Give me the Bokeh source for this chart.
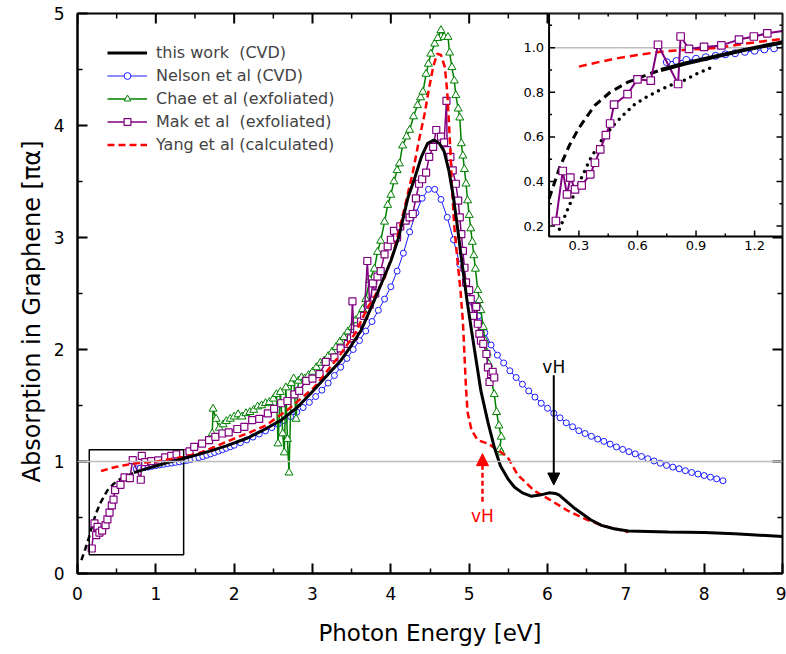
import math
from bokeh.plotting import figure
from bokeh.models import (Range1d, Legend, LegendItem, Arrow, NormalHead,
                          Label, FixedTicker, Span, Title)
from bokeh.core.properties import value
from bokeh.embed import file_html
from bokeh.resources import INLINE

FONT = "DejaVu Sans"
BLACK, BLUE, GREEN, PURPLE, RED, GRAY = "#000000", "#1a1aff", "#008000", "#800080", "#ff0000", "#bdbdbd"

# ---------------- data ----------------
# this work (CVD), measured
work_x = [0.72, 0.85, 1.00, 1.15, 1.32, 1.50, 1.70, 1.90, 2.17, 2.40, 2.60, 2.80, 2.98, 3.20,
          3.36, 3.50, 3.62, 3.79, 4.00, 4.10, 4.22, 4.30, 4.39, 4.47, 4.55, 4.62, 4.68, 4.74,
          4.79, 4.84, 4.90, 4.97, 5.03, 5.09, 5.15, 5.24, 5.32, 5.40, 5.50, 5.58, 5.68, 5.79,
          5.90, 6.02, 6.10, 6.15, 6.25, 6.35, 6.43, 6.55, 6.69, 6.85, 7.03, 7.54, 8.00, 8.39, 9.00]
work_y = [0.900, 0.930, 0.960, 0.990, 1.020, 1.055, 1.095, 1.140, 1.210, 1.290, 1.370, 1.480,
          1.610, 1.780, 1.900, 2.040, 2.170, 2.440, 2.790, 3.000, 3.360, 3.520, 3.720, 3.840,
          3.870, 3.840, 3.770, 3.600, 3.400, 3.150, 2.820, 2.450, 2.170, 1.900, 1.630, 1.350,
          1.130, 0.960, 0.840, 0.770, 0.720, 0.690, 0.700, 0.720, 0.715, 0.700, 0.640, 0.580,
          0.540, 0.480, 0.430, 0.400, 0.380, 0.370, 0.365, 0.355, 0.330]
# this work, low-energy extrapolation (dashed)
work_ext_x = [0.05, 0.10, 0.15, 0.20, 0.25, 0.30, 0.38, 0.46, 0.55, 0.67, 0.72]
work_ext_y = [0.12, 0.22, 0.33, 0.46, 0.56, 0.64, 0.74, 0.80, 0.845, 0.885, 0.900]
# dotted curve shown in the inset only
work_dot_x = [0.20, 0.24, 0.276, 0.32, 0.361, 0.42, 0.477, 0.53, 0.588, 0.65, 0.71, 0.77, 0.835, 0.91, 0.99]
work_dot_y = [0.186, 0.27, 0.345, 0.43, 0.506, 0.59, 0.652, 0.70, 0.748, 0.78, 0.808, 0.832, 0.852, 0.885, 0.916]

# Nelson et al (CVD)
nelson_x = [0.75, 0.80, 0.85, 0.90, 0.95, 1.00, 1.05, 1.10, 1.15, 1.20, 1.25, 1.30, 1.35, 1.40,
            1.45, 1.50, 1.55, 1.60, 1.65, 1.70, 1.75, 1.80, 1.85, 1.90, 1.95,
            2.00, 2.08, 2.16, 2.24, 2.32, 2.40, 2.48, 2.56, 2.64, 2.72, 2.80, 2.88, 2.96, 3.04,
            3.12, 3.20, 3.28, 3.36, 3.44, 3.52, 3.60, 3.68, 3.76, 3.84, 3.92, 4.00, 4.08, 4.16,
            4.24, 4.32, 4.40, 4.48, 4.56, 4.64, 4.72, 4.80, 4.88, 4.96, 5.04, 5.12, 5.20, 5.28,
            5.36, 5.44, 5.52, 5.60, 5.68, 5.76, 5.84, 5.92, 6.00, 6.08, 6.16, 6.24, 6.32, 6.40,
            6.48, 6.56, 6.64, 6.72, 6.80, 6.88, 6.96, 7.04, 7.12, 7.20, 7.28, 7.36, 7.44, 7.52,
            7.60, 7.68, 7.76, 7.84, 7.92, 8.00, 8.08, 8.16, 8.24]
nelson_y = [0.935, 0.940, 0.945, 0.950, 0.957, 0.963, 0.970, 0.975, 0.981, 0.986, 0.992, 0.997,
            1.003, 1.010, 1.018, 1.026, 1.035, 1.045, 1.056, 1.068, 1.080, 1.092, 1.105, 1.118,
            1.131, 1.145, 1.168, 1.192, 1.218, 1.245, 1.273, 1.302, 1.333, 1.365, 1.400, 1.440,
            1.482, 1.528, 1.580, 1.637, 1.700, 1.768, 1.842, 1.920, 2.000, 2.080, 2.165, 2.250,
            2.350, 2.450, 2.560, 2.700, 2.860, 3.050, 3.220, 3.350, 3.430, 3.430, 3.340, 3.180,
            2.980, 2.760, 2.580, 2.420, 2.300, 2.150, 2.040, 1.950, 1.880, 1.810, 1.750, 1.690,
            1.630, 1.575, 1.520, 1.475, 1.430, 1.390, 1.345, 1.310, 1.275, 1.250, 1.225, 1.200,
            1.180, 1.155, 1.130, 1.108, 1.088, 1.068, 1.045, 1.025, 1.005, 0.985, 0.965, 0.950,
            0.935, 0.918, 0.902, 0.888, 0.875, 0.860, 0.845, 0.828]

# Chae et al (exfoliated)
chae_x = [1.72, 1.73, 1.77, 1.81, 1.86, 1.90, 1.95, 2.00, 2.05, 2.10, 2.15, 2.20, 2.25, 2.30,
          2.35, 2.40, 2.45, 2.50, 2.54, 2.56, 2.59, 2.62, 2.64, 2.66, 2.68, 2.70, 2.73, 2.76,
          2.79, 2.82, 2.86, 2.90, 2.95, 3.00, 3.05, 3.10, 3.15, 3.20, 3.25, 3.30, 3.35, 3.40,
          3.45, 3.50, 3.55, 3.60, 3.64, 3.68, 3.73, 3.79, 3.83, 3.87, 3.92, 3.96, 4.00, 4.04,
          4.08, 4.11, 4.15, 4.20, 4.24, 4.29, 4.34, 4.38, 4.41, 4.45, 4.48, 4.51, 4.56, 4.60,
          4.64, 4.68, 4.73, 4.75, 4.78, 4.81, 4.83, 4.86, 4.88, 4.90, 4.92, 4.94, 4.96, 4.98,
          5.00, 5.02, 5.04, 5.06, 5.08, 5.11, 5.13, 5.15, 5.18, 5.20, 5.23, 5.25, 5.28, 5.32,
          5.35, 5.38, 5.41, 5.39, 5.41]
chae_y = [1.25, 1.47, 1.38, 1.30, 1.33, 1.36, 1.38, 1.40, 1.42, 1.40, 1.43, 1.44, 1.46, 1.49,
          1.50, 1.52, 1.53, 1.56, 1.60, 1.16, 1.62, 1.25, 1.08, 1.66, 1.20, 0.90, 1.70, 1.74,
          1.38, 1.72, 1.75, 1.74, 1.77, 1.80, 1.84, 1.88, 1.90, 1.94, 1.98, 2.02, 2.07, 2.11,
          2.16, 2.20, 2.26, 2.30, 2.36, 2.45, 2.62, 2.72, 2.87, 2.97, 3.14, 3.29, 3.38, 3.50,
          3.60, 3.66, 3.82, 3.90, 3.96, 4.08, 4.18, 4.25, 4.30, 4.46, 4.55, 4.64, 4.73, 4.78,
          4.85, 4.79, 4.79, 4.65, 4.52, 4.40, 4.27, 4.15, 4.07, 3.84, 3.73, 3.61, 3.48, 3.33,
          3.20, 3.08, 2.96, 2.84, 2.72, 2.53, 2.44, 2.35, 2.20, 2.08, 1.97, 1.87, 1.74, 1.60,
          1.44, 1.32, 1.22, 1.11, 1.08]

# Mak et al (exfoliated)
mak_x = [0.182, 0.217, 0.239, 0.256, 0.280, 0.314, 0.358, 0.382, 0.409, 0.438, 0.460, 0.480,
         0.549, 0.600, 0.668, 0.705, 0.808, 0.821, 0.864, 0.941, 1.03, 1.12, 1.196, 1.265, 1.35,
         1.43, 1.49, 1.59, 1.68, 1.76, 1.85, 1.93, 2.04, 2.13, 2.23, 2.32, 2.43, 2.51, 2.60,
         2.68, 2.77, 2.83, 2.92, 3.00, 3.09, 3.17, 3.28, 3.36, 3.45, 3.49, 3.51, 3.53, 3.57,
         3.62, 3.66, 3.70, 3.73, 3.77, 3.80, 3.83, 3.87, 3.92, 3.96, 4.00, 4.04, 4.08, 4.12,
         4.19, 4.24, 4.28, 4.32, 4.36, 4.40, 4.45, 4.49, 4.54, 4.58, 4.64, 4.68, 4.71, 4.72,
         4.76, 4.79, 4.83, 4.86, 4.88, 4.90, 4.92, 4.94, 4.96, 5.00, 5.02, 5.05, 5.09, 5.11,
         5.13, 5.15, 5.18, 5.22, 5.24, 5.28, 5.26, 5.30, 5.32]
mak_y = [0.223, 0.447, 0.342, 0.417, 0.365, 0.383, 0.432, 0.484, 0.544, 0.608, 0.660, 0.745,
         0.792, 0.858, 0.852, 1.013, 0.837, 1.050, 0.994, 1.003, 1.010, 1.036, 1.050, 1.064,
         1.076, 1.09, 1.13, 1.16, 1.19, 1.22, 1.25, 1.26, 1.29, 1.31, 1.37, 1.38, 1.43, 1.47,
         1.52, 1.54, 1.60, 1.63, 1.72, 1.74, 1.78, 1.89, 1.93, 2.01, 2.05, 2.10, 2.43, 2.12,
         2.18, 2.25, 2.30, 2.79, 2.40, 2.59, 2.50, 2.65, 2.70, 2.85, 2.92, 2.98, 3.06, 3.00,
         3.10, 3.15, 3.18, 3.21, 3.35, 3.48, 3.52, 3.58, 3.72, 3.81, 3.96, 3.90, 3.85, 4.22,
         3.78, 3.72, 3.60, 3.48, 3.33, 3.18, 3.03, 2.88, 2.73, 2.60, 2.53, 2.45, 2.30, 2.38,
         2.23, 2.14, 2.08, 2.05, 1.96, 1.84, 1.78, 1.71, 1.80, 1.75]

# Yang et al (calculated)
yang_x = [0.30, 0.40, 0.50, 0.60, 0.72, 0.85, 1.00, 1.15, 1.35, 1.55, 1.75, 2.00, 2.20, 2.40,
          2.68, 3.02, 3.36, 3.55, 3.70, 3.79, 3.92, 4.04, 4.17, 4.28, 4.36, 4.43, 4.49, 4.54,
          4.59, 4.64, 4.69, 4.72, 4.74, 4.76, 4.78, 4.81, 4.85, 4.89, 4.92, 4.94, 4.96, 4.98,
          5.03, 5.11, 5.24, 5.35, 5.49, 5.62, 5.83, 6.05, 6.26, 6.47, 6.69, 6.86, 7.03]
yang_y = [0.915, 0.935, 0.953, 0.967, 0.982, 0.990, 0.998, 1.018, 1.040, 1.075, 1.130, 1.205,
          1.260, 1.320, 1.460, 1.660, 1.960, 2.150, 2.370, 2.470, 2.640, 2.880, 3.250, 3.580,
          3.870, 4.100, 4.340, 4.520, 4.640, 4.630, 4.520, 4.300, 4.050, 3.780, 3.450, 3.100,
          2.800, 2.520, 2.250, 1.950, 1.650, 1.440, 1.280, 1.190, 1.160, 1.110, 1.040, 0.880,
          0.740, 0.650, 0.560, 0.490, 0.430, 0.400, 0.370]

legend_labels = ["this work  (CVD)", "Nelson et al (CVD)", "Chae et al (exfoliated)",
                 "Mak et al  (exfoliated)", "Yang et al (calculated)"]

# axes / ticks
main_x = (0, 9)
main_y = (0, 5)
x_major = [0, 1, 2, 3, 4, 5, 6, 7, 8, 9]
x_minor = [0.5, 1.5, 2.5, 3.5, 4.5, 5.5, 6.5, 7.5, 8.5]
y_major = [0, 1, 2, 3, 4, 5]
y_minor = [0.5, 1.5, 2.5, 3.5, 4.5]

inset_x = (0.147, 1.343)
inset_y = (0.154, 1.153)
inset_place_x = (6.02, 9.0)     # inset location in main-axis units
inset_place_y = (3.01, 5.0)
inset_xticks = [0.3, 0.6, 0.9, 1.2]
inset_xlabels = ["0.3", "0.6", "0.9", "1.2"]
inset_xminor = [0.45, 0.75, 1.05]
inset_yticks = [0.2, 0.4, 0.6, 0.8, 1.0]
inset_ylabels = ["0.2", "0.4", "0.6", "0.8", "1.0"]
inset_yminor = [0.3, 0.5, 0.7, 0.9, 1.1]

zoom_box = (0.15, 1.355, 0.167, 1.104)   # left, right, bottom, top
vh_black = (6.08, 1.77, 0.79, 1.84)      # x, y_start, y_end, label y
vh_red = (5.17, 0.64, 1.07, 0.60)

# ---------------- figure ----------------
p = figure(width=786, height=654, x_range=Range1d(*main_x), y_range=Range1d(*main_y),
           output_backend="svg", toolbar_location=None,
           min_border_left=77, min_border_right=4, min_border_top=13, min_border_bottom=81,
           x_axis_label="Photon Energy [eV]")
p.grid.visible = False
p.outline_line_color = "black"
p.outline_line_width = 2

p.xaxis.ticker = FixedTicker(ticks=x_major, minor_ticks=x_minor)
p.yaxis.ticker = FixedTicker(ticks=y_major, minor_ticks=y_minor)
for ax in p.xaxis + p.yaxis:
    ax.axis_line_width = 2
    ax.major_tick_in = 10
    ax.major_tick_out = 0
    ax.minor_tick_in = 5
    ax.minor_tick_out = 0
    ax.major_tick_line_width = 2
    ax.minor_tick_line_width = 1.5
    ax.major_label_text_font = FONT
    ax.major_label_text_font_size = "17px"
    ax.major_label_text_color = BLACK
    ax.major_label_standoff = 13
p.xaxis.axis_label_text_font = FONT
p.xaxis.axis_label_text_font_size = "23px"
p.xaxis.axis_label_text_font_style = "normal"
p.xaxis.axis_label_text_color = BLACK
p.xaxis.axis_label_standoff = 17

# y axis title; trailing em/en spaces push the visible text a little below the frame centre
p.add_layout(Title(text="Absorption in Graphene [πα]\u2003\u2002", align="center",
                   text_font=FONT, text_font_size="24px", text_font_style="normal",
                   text_color=BLACK, standoff=9), "left")

p.add_layout(Span(location=1, dimension="width", line_color=GRAY, line_width=1.5))

# mirrored inward ticks on the top and right frame edges
for vals, L in ((x_major, 10), (x_minor, 5)):
    p.ray(x=vals, y=[main_y[1]] * len(vals), length=L, angle=-math.pi / 2,
          length_units="screen", line_color=BLACK, line_width=2 if L == 10 else 1.5)
for vals, L in ((y_major, 10), (y_minor, 5)):
    p.ray(x=[main_x[1]] * len(vals), y=vals, length=L, angle=math.pi,
          length_units="screen", line_color=BLACK, line_width=2 if L == 10 else 1.5)

# main series
p.line(work_ext_x, work_ext_y, line_color=BLACK, line_width=2.5, line_dash="6 4")
r_bl = p.line(nelson_x, nelson_y, line_color=BLUE, line_width=1)
r_bm = p.scatter(nelson_x, nelson_y, marker="circle", size=6, line_color=BLUE,
                 fill_color="white", line_width=1)
r_gl = p.line(chae_x, chae_y, line_color=GREEN, line_width=1.5)
r_gm = p.scatter(chae_x, chae_y, marker="triangle", size=8, line_color=GREEN,
                 fill_color="white", line_width=1)
r_pl = p.line(mak_x, mak_y, line_color=PURPLE, line_width=1.5)
r_pm = p.scatter(mak_x, mak_y, marker="square", size=7, line_color=PURPLE,
                 fill_color="white", line_width=1.2)
r_red = p.line(yang_x, yang_y, line_color=RED, line_width=2.5, line_dash="7 4")
r_work = p.line(work_x, work_y, line_color=BLACK, line_width=3)

p.quad(left=zoom_box[0], right=zoom_box[1], bottom=zoom_box[2], top=zoom_box[3],
       fill_alpha=0, line_color=BLACK, line_width=1.5)

# vH arrows & labels
p.add_layout(Arrow(end=NormalHead(size=12, fill_color=BLACK, line_color=BLACK),
                   x_start=vh_black[0], y_start=vh_black[1], x_end=vh_black[0], y_end=vh_black[2],
                   line_color=BLACK, line_width=2))
p.add_layout(Label(x=vh_black[0], y=vh_black[3], text="vH", text_align="center",
                   text_baseline="alphabetic", text_font=FONT, text_font_size="17px",
                   text_color=BLACK))
p.add_layout(Arrow(end=NormalHead(size=12, fill_color=RED, line_color=RED),
                   x_start=vh_red[0], y_start=vh_red[1], x_end=vh_red[0], y_end=vh_red[2],
                   line_color=RED, line_width=2.5, line_dash="5 3"))
p.add_layout(Label(x=vh_red[0], y=vh_red[3], text="vH", text_align="center",
                   text_baseline="top", text_font=FONT, text_font_size="17px",
                   text_color=RED))

# ---------------- inset ----------------
def extra_range(src, tgt, full):
    s0, s1 = src
    t0, t1 = tgt
    f0, f1 = full
    k = (s1 - s0) / (t1 - t0)
    return Range1d(s0 - (t0 - f0) * k, s1 + (f1 - t1) * k)


p.extra_x_ranges = {"inset": extra_range(inset_x, inset_place_x, main_x)}
p.extra_y_ranges = {"inset": extra_range(inset_y, inset_place_y, main_y)}
IN = dict(x_range_name="inset", y_range_name="inset")
X0, X1 = inset_x
Y0, Y1 = inset_y


def clip_polyline(xs, ys):
    out_x, out_y, cx, cy = [], [], [], []
    for i in range(len(xs) - 1):
        ax_, ay_, bx_, by_ = xs[i], ys[i], xs[i + 1], ys[i + 1]
        dx, dy = bx_ - ax_, by_ - ay_
        t0, t1, ok = 0.0, 1.0, True
        for pp, qq in ((-dx, ax_ - X0), (dx, X1 - ax_), (-dy, ay_ - Y0), (dy, Y1 - ay_)):
            if pp == 0:
                if qq < 0:
                    ok = False
                    break
            else:
                r = qq / pp
                if pp < 0:
                    if r > t1:
                        ok = False
                        break
                    t0 = max(t0, r)
                else:
                    if r < t0:
                        ok = False
                        break
                    t1 = min(t1, r)
        if not ok:
            if cx:
                out_x.append(cx)
                out_y.append(cy)
                cx, cy = [], []
            continue
        sx, sy = ax_ + t0 * dx, ay_ + t0 * dy
        ex, ey = ax_ + t1 * dx, ay_ + t1 * dy
        if cx and (abs(cx[-1] - sx) > 1e-9 or abs(cy[-1] - sy) > 1e-9):
            out_x.append(cx)
            out_y.append(cy)
            cx, cy = [], []
        if not cx:
            cx, cy = [sx], [sy]
        cx.append(ex)
        cy.append(ey)
        if t1 < 1.0:
            out_x.append(cx)
            out_y.append(cy)
            cx, cy = [], []
    if cx:
        out_x.append(cx)
        out_y.append(cy)
    return out_x, out_y


def inside(xs, ys):
    pts = [(a, b) for a, b in zip(xs, ys) if X0 <= a <= X1 and Y0 <= b <= Y1]
    return [a for a, _ in pts], [b for _, b in pts]


p.quad(left=X0, right=X1, bottom=Y0, top=Y1, fill_color="white", line_color=None, **IN)
p.segment(x0=X0, y0=1.0, x1=X1, y1=1.0, line_color=GRAY, line_width=1.5, **IN)

mx, my = clip_polyline(work_dot_x, work_dot_y)
p.multi_line(mx, my, line_color=BLACK, line_width=3.5, line_dash="0 7", line_cap="round", **IN)
mx, my = clip_polyline(work_ext_x, work_ext_y)
p.multi_line(mx, my, line_color=BLACK, line_width=3, line_dash="8 5", **IN)
mx, my = clip_polyline(nelson_x, nelson_y)
p.multi_line(mx, my, line_color=BLUE, line_width=1, **IN)
sx, sy = inside(nelson_x, nelson_y)
p.scatter(sx, sy, marker="circle", size=7, line_color=BLUE, fill_color="white", line_width=1, **IN)
mx, my = clip_polyline(yang_x, yang_y)
p.multi_line(mx, my, line_color=RED, line_width=2.5, line_dash="8 5", **IN)
mx, my = clip_polyline(mak_x, mak_y)
p.multi_line(mx, my, line_color=PURPLE, line_width=2, **IN)
sx, sy = inside(mak_x, mak_y)
p.scatter(sx, sy, marker="square", size=7.5, line_color=PURPLE, fill_color="white", line_width=1.2, **IN)
mx, my = clip_polyline(work_x, work_y)
p.multi_line(mx, my, line_color=BLACK, line_width=4, **IN)

# inset frame
p.quad(left=X0, right=X1, bottom=Y0, top=Y1, fill_alpha=0, line_color=BLACK, line_width=2, **IN)
# inset ticks (inward)
for vals, L in ((inset_xticks, 6), (inset_xminor, 3)):
    n = len(vals)
    p.ray(x=vals, y=[Y0] * n, length=L, angle=math.pi / 2, length_units="screen",
          line_color=BLACK, line_width=1.5, **IN)
    p.ray(x=vals, y=[Y1] * n, length=L, angle=-math.pi / 2, length_units="screen",
          line_color=BLACK, line_width=1.5, **IN)
for vals, L in ((inset_yticks, 6), (inset_yminor, 3)):
    n = len(vals)
    p.ray(x=[X0] * n, y=vals, length=L, angle=0, length_units="screen",
          line_color=BLACK, line_width=1.5, **IN)
    p.ray(x=[X1] * n, y=vals, length=L, angle=math.pi, length_units="screen",
          line_color=BLACK, line_width=1.5, **IN)
p.text(x=inset_xticks, y=[Y0] * len(inset_xticks), text=inset_xlabels, text_align="center",
       text_baseline="top", y_offset=5, text_font=value(FONT), text_font_size="13px",
       text_color=BLACK, **IN)
p.text(x=[X0] * len(inset_yticks), y=inset_yticks, text=inset_ylabels, text_align="right",
       text_baseline="middle", x_offset=-5, text_font=value(FONT), text_font_size="13px",
       text_color=BLACK, **IN)

# ---------------- legend ----------------
legend = Legend(items=[
    LegendItem(label=legend_labels[0], renderers=[r_work]),
    LegendItem(label=legend_labels[1], renderers=[r_bl, r_bm]),
    LegendItem(label=legend_labels[2], renderers=[r_gl, r_gm]),
    LegendItem(label=legend_labels[3], renderers=[r_pl, r_pm]),
    LegendItem(label=legend_labels[4], renderers=[r_red]),
], location="top_left", border_line_color=None, background_fill_alpha=0, margin=30, padding=0,
    glyph_width=40, glyph_height=17, label_height=17, spacing=4, label_standoff=9,
    label_text_font=FONT, label_text_font_size="16px")
p.add_layout(legend)

open("out.html", "w").write(file_html(p, INLINE))
